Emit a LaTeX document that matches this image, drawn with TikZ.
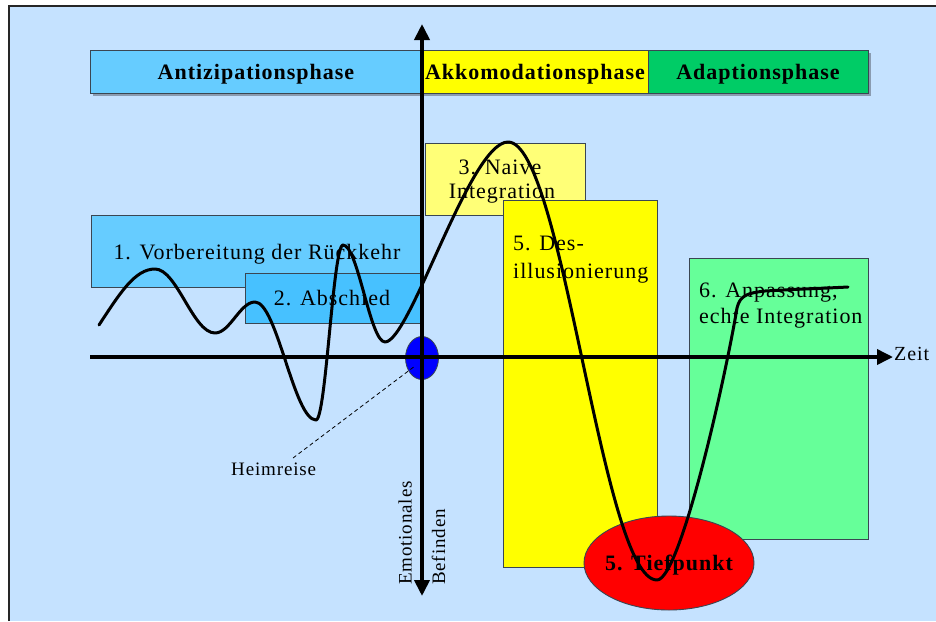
\documentclass[tikz,border=0pt]{standalone}
\usepackage{fontspec}
\setmainfont{Liberation Serif}[LetterSpace=4.5]
\usetikzlibrary{arrows.meta,shapes.geometric}
\definecolor{bgblue}{HTML}{C5E2FF}
\definecolor{antblue}{HTML}{66CCFF}
\definecolor{absblue}{HTML}{47C1FF}
\definecolor{akkyellow}{HTML}{FFFF00}
\definecolor{naiveyellow}{HTML}{FFFF77}
\definecolor{adagreen}{HTML}{00CC66}
\definecolor{anpgreen}{HTML}{66FF99}
\definecolor{boxline}{HTML}{3A4652}
\definecolor{shadowc}{HTML}{8A9BB0}
\begin{document}
\begin{tikzpicture}[x=1pt,y=-1pt,
  boxr/.style={draw=boxline, line width=0.9pt, inner sep=0pt, anchor=north west},
  phasetxt/.style={font=\fontsize{22}{26}\selectfont\bfseries, inner sep=0pt, anchor=base},
  boxtxt/.style={font=\fontsize{22}{26}\selectfont, inner sep=0pt},
  smalltxt/.style={font=\fontsize{19}{23}\selectfont, inner sep=0pt},
  axisline/.style={line width=3.6pt, -{Triangle[width=15pt,length=16pt]}},
  curveline/.style={line width=3pt, line cap=round, line join=round}]
\useasboundingbox (0,0) rectangle (936,621);
% background frame
\fill[bgblue] (9,6) rectangle (936,621);
\draw[line width=2pt, black!85] (9,621) -- (9,6) -- (936,6);

% phase bar
\fill[shadowc] (93,53) rectangle (871,96);
\node[boxr, fill=antblue, minimum width=332pt, minimum height=43pt] (ant) at (90,50) {};
\node[boxr, fill=akkyellow, minimum width=226pt, minimum height=43pt] (akk) at (422,50) {};
\node[boxr, fill=adagreen, minimum width=220pt, minimum height=43pt] (ada) at (648,50) {};

% phase boxes
\node[boxr, fill=antblue, minimum width=331.5pt, minimum height=72pt] (b1) at (90.5,215) {};
\node[boxr, fill=absblue, minimum width=178pt, minimum height=50.5pt] (b2) at (244.5,272.5) {};
\node[boxr, fill=naiveyellow, minimum width=160pt, minimum height=72pt] (b3) at (424.5,142.5) {};
\node[boxr, fill=akkyellow, minimum width=154pt, minimum height=367pt] (b5) at (503.3,200) {};
\node[boxr, fill=anpgreen, minimum width=178.7pt, minimum height=281pt] (b6) at (689.3,257.5) {};
\node[ellipse, draw=boxline, line width=0.9pt, fill=red, minimum width=170pt, minimum height=94pt, inner sep=0pt] (tief) at (669,563) {};

% texts
\node[phasetxt] (tant) at (256,79) {Antizipationsphase};
\node[phasetxt] (takk) at (535,79) {Akkomodationsphase};
\node[phasetxt] (tada) at (758,79) {Adaptionsphase};
\node[boxtxt, anchor=base] (t1) at (257,259) {1. Vorbereitung der Rückkehr};
\node[boxtxt, anchor=base] (t2) at (332,305) {2. Abschied};
\node[boxtxt, anchor=base] (t3a) at (500,174) {3. Naive};
\node[boxtxt, anchor=base] (t3b) at (502,198.5) {Integration};
\node[boxtxt, anchor=base west] (t5a) at (513,250.5) {5. Des-};
\node[boxtxt, anchor=base west] (t5b) at (513,278) {illusionierung};
\node[boxtxt, anchor=base west] (t6a) at (699,297.5) {6. Anpassung,};
\node[boxtxt, anchor=base west] (t6b) at (699,323.5) {echte Integration};
\node[phasetxt] (ttief) at (669,570.5) {5. Tiefpunkt};

% origin marker
\node[ellipse, draw=boxline, line width=0.8pt, fill=blue, minimum width=33pt, minimum height=43pt, inner sep=0pt] (origin) at (422,358) {};

% axes
\coordinate (ybot) at (422,596);
\coordinate (ytop) at (422,24);
\coordinate (xleft) at (90,357);
\coordinate (xright) at (893,357);
\draw[line width=3.8pt, {Triangle[width=15pt,length=16pt]}-{Triangle[width=15pt,length=16pt]}] (ybot) -- (ytop);
\draw[axisline] (xleft) -- (xright);
\node[smalltxt, font=\fontsize{20}{24}\selectfont, anchor=base west] (zeit) at (894,360) {Zeit};
\node[smalltxt, rotate=90, anchor=base west] (emo) at (411.5,585) {Emotionales};
\node[smalltxt, rotate=90, anchor=base west] (bef) at (445,585) {Befinden};

% Heimreise
\node[smalltxt, anchor=base west] (heim) at (231,475) {Heimreise};
\coordinate (dashs) at (293,458);
\coordinate (dashe) at (415,366);
\draw[line width=0.8pt, dash pattern=on 4pt off 3pt] (dashs) -- (dashe);

% emotional curve
\draw[curveline] (99,325)
  .. controls (120,293) and (135,269) .. (155,269)
  .. controls (177,269) and (193,333) .. (215,333)
  .. controls (230,333) and (240,302) .. (255,302)
  .. controls (277,302) and (294,420) .. (316,420)
  .. controls (326,420) and (333,245) .. (343,245)
  .. controls (358,245) and (370,342) .. (385,342)
  .. controls (410,342) and (470,142) .. (508,142)
  .. controls (563,142) and (602,580) .. (657,580)
  .. controls (680,580) and (725,380) .. (737,308)
  .. controls (740,295) and (748,293) .. (765,291)
  .. controls (800,289) and (830,288) .. (848,287);
\end{tikzpicture}
\end{document}
